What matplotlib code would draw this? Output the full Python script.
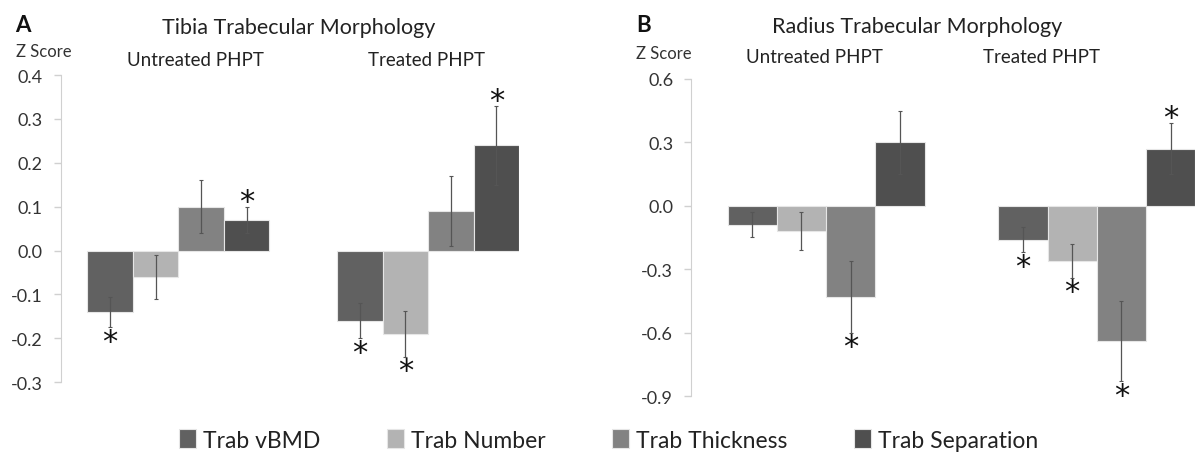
import matplotlib.pyplot as plt
import numpy as np

plt.rcParams['font.family'] = ['Lato', 'DejaVu Sans']

groups = ['Untreated PHPT', 'Treated PHPT']
measures = ['Trab vBMD', 'Trab Number', 'Trab Thickness', 'Trab Separation']
colors = ['#616161', '#b3b3b3', '#828282', '#4f4f4f']

# tibia z scores [group][measure]
tibia_vals = [[-0.14, -0.06, 0.10, 0.07],
              [-0.16, -0.19, 0.09, 0.24]]
tibia_err = [[0.035, 0.05, 0.06, 0.03],
             [0.04, 0.052, 0.08, 0.09]]
tibia_sig = [[1, 0, 0, 1],
             [1, 1, 0, 1]]
tibia_ticks = [-0.3, -0.2, -0.1, 0.0, 0.1, 0.2, 0.3, 0.4]

# radius z scores
radius_vals = [[-0.09, -0.12, -0.43, 0.30],
               [-0.16, -0.26, -0.64, 0.27]]
radius_err = [[0.06, 0.09, 0.17, 0.15],
              [0.06, 0.08, 0.19, 0.12]]
radius_sig = [[0, 0, 1, 0],
              [1, 1, 1, 1]]
radius_ticks = [-0.9, -0.6, -0.3, 0.0, 0.3, 0.6]

fig = plt.figure(figsize=(11.96, 4.56), dpi=100)
axA = fig.add_axes([0.051, 0.160, 0.383, 0.673])
axB = fig.add_axes([0.578, 0.129, 0.421, 0.696])

w = 0.182
offsets = (np.arange(4) - 1.5) * w


def draw(ax, vals, errs, sig, yticks):
    vals = np.array(vals)
    errs = np.array(errs)
    for m in range(4):
        x = np.arange(2) + offsets[m]
        ax.bar(x, vals[:, m], width=w, color=colors[m], edgecolor='#e6e6e6',
               linewidth=0.8, label=measures[m])
        ax.errorbar(x, vals[:, m], yerr=errs[:, m], fmt='none', ecolor='#555555',
                    elinewidth=0.9, capsize=1.5, capthick=0.8)
        for g in range(2):
            if sig[g][m]:
                v = vals[g, m]
                end = v + np.sign(v) * errs[g, m]
                dy = 4 if v > 0 else -10
                ax.annotate('*', xy=(x[g], end), xytext=(0, dy), textcoords='offset points',
                            ha='center', va='center', fontsize=22, color='#111111',
                            family='DejaVu Sans')
    ax.set_ylim(yticks[0], yticks[-1])
    ax.set_yticks(yticks)
    ax.set_yticklabels([f'{t:.1f}' for t in yticks])
    ax.set_xticks([])
    for s in ['top', 'right', 'bottom']:
        ax.spines[s].set_visible(False)
    ax.spines['left'].set_color('#d0d0d0')
    ax.tick_params(axis='y', colors='#d0d0d0', labelcolor='#333333', labelsize=13,
                   length=5, width=1, pad=8)


draw(axA, tibia_vals, tibia_err, tibia_sig, tibia_ticks)
draw(axB, radius_vals, radius_err, radius_sig, radius_ticks)
axA.set_xlim(-0.47, 1.364)
axB.set_xlim(-0.498, 1.362)

# titles and panel labels
fig.text(0.25, 0.939, 'Tibia Trabecular Morphology', ha='center', va='center', fontsize=15.5, color='#222222')
fig.text(0.767, 0.941, 'Radius Trabecular Morphology', ha='center', va='center', fontsize=15.5, color='#222222')
fig.text(0.163, 0.868, groups[0], ha='center', va='center', fontsize=13.5, color='#222222')
fig.text(0.357, 0.868, groups[1], ha='center', va='center', fontsize=13.5, color='#222222')
fig.text(0.681, 0.873, groups[0], ha='center', va='center', fontsize=13.5, color='#222222')
fig.text(0.871, 0.873, groups[1], ha='center', va='center', fontsize=13.5, color='#222222')

fig.text(0.013, 0.945, 'A', ha='left', va='center', fontsize=16, fontweight='bold', color='#111111')
fig.text(0.013, 0.886, 'Z Score', ha='left', va='center', fontsize=12, color='#333333')
fig.text(0.532, 0.943, 'B', ha='left', va='center', fontsize=16, fontweight='bold', color='#111111')
fig.text(0.532, 0.882, 'Z Score', ha='left', va='center', fontsize=12, color='#333333')

handles, labels = axA.get_legend_handles_labels()
fig.legend(handles, labels, loc='center', bbox_to_anchor=(0.509, 0.033), ncol=4, frameon=False,
           fontsize=16.5, handlelength=0.75, handleheight=0.9, handletextpad=0.3, columnspacing=2.9,
           labelcolor='#222222')

fig.savefig('out.png', dpi=100)
